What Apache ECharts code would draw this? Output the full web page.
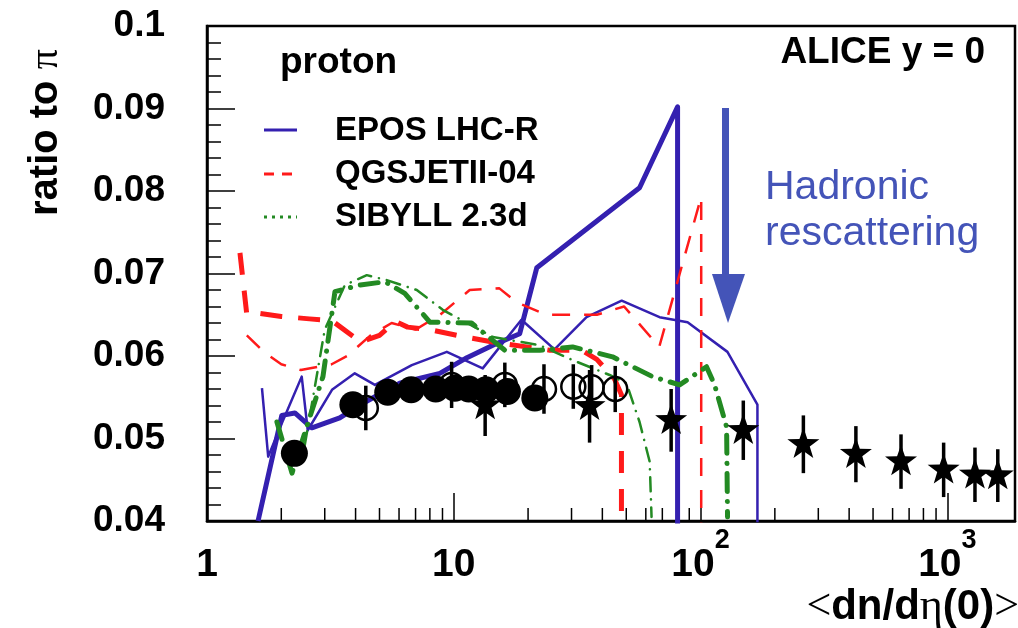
<!DOCTYPE html>
<html>
<head>
<meta charset="utf-8">
<script src="https://cdn.jsdelivr.net/npm/echarts@6/dist/echarts.min.js"></script>
<style>
  html, body { margin: 0; padding: 0; background: #fff; }
  #chart { width: 1018px; height: 628px; }
</style>
</head>
<body>
<div id="chart"></div>
<script>
// ---- measured points: <dN/deta> and proton/pion ratio with stat. errors ----
const PP_MULT   = [2.26, 3.90, 5.40, 6.72, 8.45, 10.1, 11.5, 13.5, 16.5, 21.3];
const PP_RATIO  = [0.0482, 0.0541, 0.0556, 0.0559, 0.0560, 0.0561, 0.0560, 0.0559, 0.0557, 0.0549];
const PP_ERR    = [0.0008, 0.0008, 0.0008, 0.0008, 0.0008, 0.0008, 0.0008, 0.0008, 0.0008, 0.0008];

const PPB_MULT  = [4.4, 9.8, 16.1, 23.2, 30.5, 36.2, 45.1];
const PPB_RATIO = [0.0537, 0.0565, 0.0565, 0.0560, 0.0563, 0.0562, 0.0560];
const PPB_ERR   = [0.0027, 0.0028, 0.0027, 0.0030, 0.0027, 0.0027, 0.0028];

const PBPB_MULT  = [13.4, 35.5, 76, 149, 261, 426, 649, 966, 1294, 1601];
const PBPB_RATIO = [0.0540, 0.0539, 0.0522, 0.0510, 0.0493, 0.0481, 0.0472, 0.0462, 0.0456, 0.0455];
const PBPB_ERR   = [0.0037, 0.0044, 0.0038, 0.0036, 0.0035, 0.0034, 0.0033, 0.0033, 0.0033, 0.0032];

// ---- model predictions (two systems per generator) ----
const EPOS_A_X = [1.61, 2.01, 2.27, 2.66, 3.45, 4.36, 6.04, 8.78, 11.3, 14.4, 18.5, 21.7, 56.6, 80.7, 80.7];
const EPOS_A_Y = [0.0400, 0.0528, 0.0531, 0.0513, 0.0525, 0.0544, 0.0567, 0.0579, 0.0598, 0.0613, 0.0627, 0.0707, 0.0804, 0.0902, 0.0390];
const EPOS_B_X = [1.67, 1.77, 1.98, 2.42, 2.56, 3.21, 3.97, 4.79, 6.76, 9.37, 13.1, 18.8, 25.6, 34.5, 47.9, 68.2, 88.6, 128.5, 170, 170];
const EPOS_B_Y = [0.0561, 0.0478, 0.0514, 0.0575, 0.0510, 0.0559, 0.0579, 0.0565, 0.0589, 0.0605, 0.0585, 0.0644, 0.0608, 0.0647, 0.0667, 0.0647, 0.0641, 0.0605, 0.0541, 0.0390];

const QGS_A_X = [1.36, 1.45, 1.60, 2.0, 2.6, 3.2, 4.2, 5.0, 5.8, 6.5, 8.0, 10.3, 15.0, 24.5, 33.0, 38.0, 44.8, 47.8, 47.8];
const QGS_A_Y = [0.0725, 0.0650, 0.0652, 0.0648, 0.0645, 0.0643, 0.0617, 0.0625, 0.0642, 0.0635, 0.0632, 0.0625, 0.0616, 0.0607, 0.0607, 0.0596, 0.0572, 0.0553, 0.0390];
const QGS_B_X = [1.45, 1.7, 2.0, 2.4, 3.2, 3.7, 4.6, 5.6, 7.0, 8.8, 11.6, 15.3, 18.0, 23.7, 38.0, 49.0, 68.0, 100.6, 100.6];
const QGS_B_Y = [0.0625, 0.0605, 0.0590, 0.0583, 0.0590, 0.0600, 0.0625, 0.0640, 0.0632, 0.0650, 0.0680, 0.0682, 0.0665, 0.0650, 0.0650, 0.0660, 0.0611, 0.0793, 0.0390];

const SIB_A_X = [1.92, 2.21, 2.61, 2.95, 3.30, 4.16, 5.26, 6.33, 8.0, 11.8, 16.1, 22.3, 30.3, 44.0, 63.9, 82.2, 105.7, 114, 127.5, 128.6];
const SIB_A_Y = [0.0520, 0.0458, 0.0526, 0.0575, 0.0678, 0.0686, 0.0690, 0.0676, 0.0641, 0.0640, 0.0607, 0.0607, 0.0611, 0.0599, 0.0575, 0.0565, 0.0587, 0.0565, 0.0514, 0.0405];
const SIB_B_X = [2.49, 3.0, 3.62, 4.44, 5.35, 7.08, 9.02, 14.4, 22.3, 30.3, 42.8, 50.1, 56.6, 62.2, 63.3];
const SIB_B_Y = [0.0492, 0.0632, 0.0686, 0.0698, 0.0692, 0.0680, 0.0656, 0.0623, 0.0613, 0.0595, 0.0577, 0.0567, 0.0520, 0.0472, 0.0405];

// ---- axis ticks ----
const X_MINOR_TICKS = [2, 3, 4, 5, 6, 7, 8, 9, 20, 30, 40, 50, 60, 70, 80, 90, 200, 300, 400, 500, 600, 700, 800, 900];
const Y_MIN = 0.04, Y_MAX = 0.1, Y_STEP = 0.01;
const X_MIN = 1, X_MAX = 1880;

const BLUE = '#3420b0';
const RED = '#ff1a1a';
const GREEN = '#238a23';
const NOTE_BLUE = '#4454b8';
const SANS = '"Liberation Sans", Arial, Helvetica, sans-serif';
const SERIF = '"Liberation Serif", "DejaVu Serif", serif';

const zip = (xs, ys) => xs.map((x, i) => [x, ys[i]]);
const zip3 = (xs, ys, es) => xs.map((x, i) => [x, ys[i], es[i]]);

const STAR = 'path://M100,0L123.5,67.6L195.1,69.1L138,112.4L158.8,180.9L100,140L41.2,180.9L62,112.4L4.9,69.1L76.5,67.6Z';

function modelLine(name, xs, ys, color, width, dash, cap) {
  return {
    name, type: 'line', data: zip(xs, ys), symbol: 'none', silent: true,
    z: 3, clip: true,
    lineStyle: { color, width, type: dash, cap: cap || 'butt', join: 'round', opacity: 1 }
  };
}

function errorBars(name, xs, ys, es) {
  return {
    name, type: 'custom', data: zip3(xs, ys, es), z: 5, silent: true,
    renderItem(params, api) {
      const x = api.value(0), y = api.value(1), e = api.value(2);
      const lo = api.coord([x, y - e]);
      const hi = api.coord([x, y + e]);
      return { type: 'line', shape: { x1: lo[0], y1: lo[1], x2: hi[0], y2: hi[1] },
               style: { stroke: '#000', lineWidth: 3.5 } };
    }
  };
}

const chart = echarts.init(document.getElementById('chart'), null, { renderer: 'canvas' });

const option = {
  animation: false,
  backgroundColor: '#fff',
  grid: {
    left: 207, top: 26, width: 808, height: 495,
    outerBoundsMode: 'none', containLabel: false,
    show: true, borderColor: '#000', borderWidth: 2.5, backgroundColor: '#fff'
  },
  xAxis: {
    type: 'log', logBase: 10, min: X_MIN, max: X_MAX,
    axisLine: { lineStyle: { color: '#000', width: 2.5 } },
    axisTick: { inside: true, length: 28, lineStyle: { color: '#000', width: 1.5 } },
    splitLine: { show: false },
    axisLabel: {
      margin: 6, color: '#000', showMaxLabel: false, hideOverlap: false,
      formatter(v) {
        const l = Math.log10(v);
        const p = Math.round(l);
        if (Math.abs(l - p) > 1e-6) return '';
        if (p <= 1) return '{b|' + Math.round(v) + '}';
        return '{b|10}{s|' + p + '}';
      },
      rich: {
        b: { fontFamily: SANS, fontWeight: 'bold', fontSize: 39, lineHeight: 39, padding: [37, 0, 0, 0], color: '#000' },
        s: { fontFamily: SANS, fontWeight: 'bold', fontSize: 27, lineHeight: 27, verticalAlign: 'top', color: '#000' }
      }
    }
  },
  yAxis: {
    type: 'value', min: Y_MIN, max: Y_MAX, interval: Y_STEP,
    axisLine: { lineStyle: { color: '#000', width: 2.5 } },
    axisTick: { inside: true, length: 28, lineStyle: { color: '#000', width: 1.5 } },
    minorTick: { show: true, splitNumber: 5, length: 14, lineStyle: { color: '#000', width: 1.5 } },
    splitLine: { show: false },
    axisLabel: {
      margin: 42, color: '#000', fontFamily: SANS, fontWeight: 'bold', fontSize: 37,
      formatter: v => (Math.abs(v - 0.1) < 1e-9 ? '0.1' : v.toFixed(2))
    }
  },
  series: [
    {
      name: 'x minor ticks', type: 'custom', silent: true, z: 2,
      data: X_MINOR_TICKS.map(v => [v, Y_MIN]),
      renderItem(params, api) {
        const p = api.coord([api.value(0), api.value(1)]);
        return { type: 'line', shape: { x1: p[0], y1: p[1], x2: p[0], y2: p[1] - 13 },
                 style: { stroke: '#000', lineWidth: 1.5 } };
      }
    },
    modelLine('EPOS LHC-R (a)', EPOS_A_X, EPOS_A_Y, BLUE, 5, 'solid'),
    modelLine('EPOS LHC-R (b)', EPOS_B_X, EPOS_B_Y, BLUE, 2.5, 'solid'),
    modelLine('QGSJETII-04 (a)', QGS_A_X, QGS_A_Y, RED, 5, [22, 16]),
    modelLine('QGSJETII-04 (b)', QGS_B_X, QGS_B_Y, RED, 2.5, [18, 14]),
    modelLine('SIBYLL 2.3d (a)', SIB_A_X, SIB_A_Y, GREEN, 5, [18, 10, 0.1, 10], 'round'),
    modelLine('SIBYLL 2.3d (b)', SIB_B_X, SIB_B_Y, GREEN, 2.5, [14, 8, 0.1, 8], 'round'),
    errorBars('pp err', PP_MULT, PP_RATIO, PP_ERR),
    errorBars('pPb err', PPB_MULT, PPB_RATIO, PPB_ERR),
    errorBars('PbPb err', PBPB_MULT, PBPB_RATIO, PBPB_ERR),
    {
      name: 'pp', type: 'scatter', data: zip(PP_MULT, PP_RATIO), z: 6, silent: true,
      symbol: 'circle', symbolSize: 27, itemStyle: { color: '#000', opacity: 1 }
    },
    {
      name: 'p-Pb', type: 'scatter', data: zip(PPB_MULT, PPB_RATIO), z: 6, silent: true,
      symbol: 'circle', symbolSize: 24, itemStyle: { color: 'rgba(0,0,0,0)', borderColor: '#000', borderWidth: 2.5, opacity: 1 }
    },
    {
      name: 'Pb-Pb', type: 'scatter', data: zip(PBPB_MULT, PBPB_RATIO), z: 6, silent: true,
      symbol: STAR, symbolKeepAspect: true, symbolSize: 32, symbolOffset: [0, -1.5], itemStyle: { color: '#000', opacity: 1 }
    }
  ],
  graphic: [
    // titles and labels inside the frame
    { type: 'text', z: 20, style: { x: 280, y: 63, text: 'proton', font: 'bold 37px ' + SANS, fill: '#000', verticalAlign: 'middle' } },
    { type: 'text', z: 20, style: { x: 985, y: 53, text: 'ALICE y = 0', font: 'bold 37px ' + SANS, fill: '#000', align: 'right', verticalAlign: 'middle' } },
    // legend
    { type: 'line', z: 20, shape: { x1: 264, y1: 130, x2: 297, y2: 130 }, style: { stroke: BLUE, lineWidth: 3 } },
    { type: 'line', z: 20, shape: { x1: 264, y1: 174, x2: 297, y2: 174 }, style: { stroke: RED, lineWidth: 3, lineDash: [10, 8] } },
    { type: 'line', z: 20, shape: { x1: 264, y1: 217, x2: 297, y2: 217 }, style: { stroke: GREEN, lineWidth: 3, lineDash: [3, 5] } },
    { type: 'text', z: 20, style: { x: 335, y: 131, text: 'EPOS LHC-R', font: 'bold 33px ' + SANS, fill: '#000', verticalAlign: 'middle' } },
    { type: 'text', z: 20, style: { x: 335, y: 174, text: 'QGSJETII-04', font: 'bold 33px ' + SANS, fill: '#000', verticalAlign: 'middle' } },
    { type: 'text', z: 20, style: { x: 335, y: 217, text: 'SIBYLL 2.3d', font: 'bold 33px ' + SANS, fill: '#000', verticalAlign: 'middle' } },
    // hadronic rescattering annotation
    { type: 'rect', z: 20, shape: { x: 722, y: 108, width: 7, height: 170 }, style: { fill: NOTE_BLUE } },
    { type: 'polygon', z: 20, shape: { points: [[712, 274], [745, 274], [728, 323]] }, style: { fill: NOTE_BLUE } },
    { type: 'text', z: 20, style: { x: 765, y: 188, text: 'Hadronic', font: '41px ' + SANS, fill: NOTE_BLUE, verticalAlign: 'middle' } },
    { type: 'text', z: 20, style: { x: 765, y: 234, text: 'rescattering', font: '41px ' + SANS, fill: NOTE_BLUE, verticalAlign: 'middle' } },
    // axis titles
    {
      type: 'text', z: 20, x: 46, y: 216, rotation: Math.PI / 2,
      style: {
        text: '{a|ratio to }{p|π}', align: 'left', verticalAlign: 'middle',
        rich: {
          a: { fontFamily: SANS, fontWeight: 'bold', fontSize: 40, fill: '#000' },
          p: { fontFamily: SERIF, fontSize: 40, fill: '#000' }
        }
      }
    },
    {
      type: 'text', z: 20, x: 1019, y: 607,
      style: {
        text: '{s|<}{b|dn/d}{s|η}{b|(0)}{s|>}', align: 'right', verticalAlign: 'middle',
        rich: {
          b: { fontFamily: SANS, fontWeight: 'bold', fontSize: 42, fill: '#000' },
          s: { fontFamily: SERIF, fontSize: 44, fill: '#000' }
        }
      }
    }
  ]
};

chart.setOption(option);
</script>
</body>
</html>
